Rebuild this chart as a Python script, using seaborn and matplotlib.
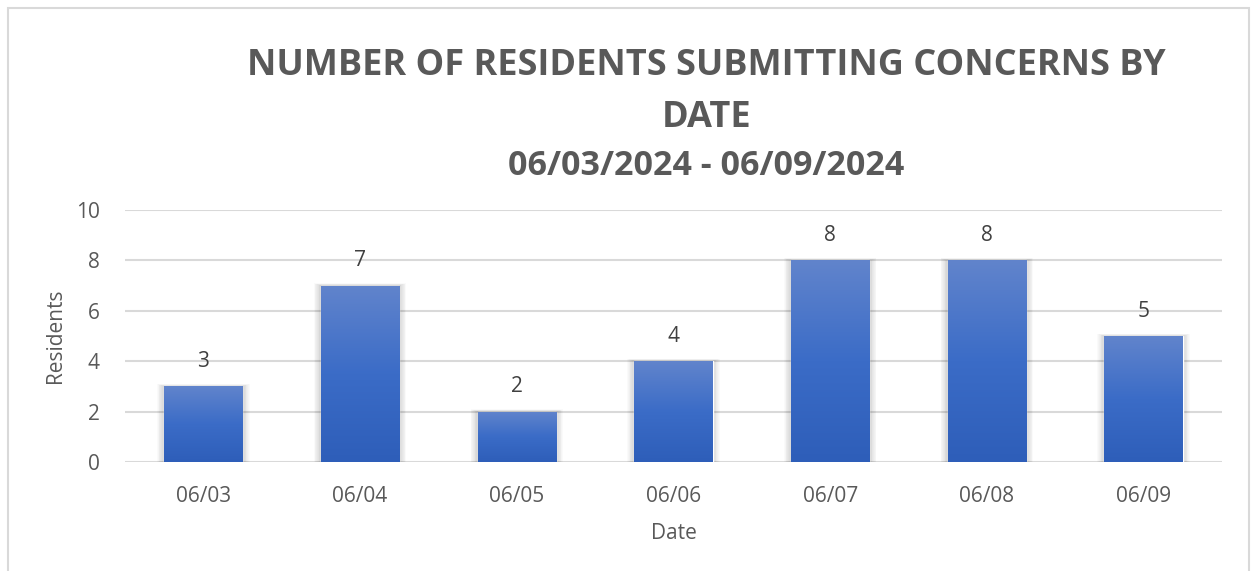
import numpy as np
import pandas as pd
import matplotlib
matplotlib.use("Agg")
import matplotlib.pyplot as plt
import seaborn as sns
from matplotlib.colors import LinearSegmentedColormap
from matplotlib.patches import Rectangle

# Данные
dates = ["06/03", "06/04", "06/05", "06/06", "06/07", "06/08", "06/09"]
residents = [3, 7, 2, 4, 8, 8, 5]
y_ticks = [0, 2, 4, 6, 8, 10]

title_lines = ["NUMBER OF RESIDENTS SUBMITTING CONCERNS BY", "DATE"]
title_sub = "06/03/2024 - 06/09/2024"

df = pd.DataFrame({"Date": dates, "Residents": residents})

sns.set_theme(style="white")
plt.rcParams["font.family"] = ["Open Sans", "DejaVu Sans"]

text_color = "#595959"
grid_color = "#d9d9d9"

fig = plt.figure(figsize=(12.52, 5.71), dpi=100)
ax = fig.add_axes([0.0998, 0.191, 0.8762, 0.441])

sns.barplot(data=df, x="Date", y="Residents", color="#3f6fc6",
            width=0.5, ax=ax, zorder=3, saturation=1)

ax.set_yticks(y_ticks)
ax.yaxis.grid(True, color=grid_color, linewidth=1.5, zorder=0)
ax.set_axisbelow(True)
sns.despine(ax=ax, left=True, bottom=True)

# Градиент на столбцах + мягкая тень
cmap = LinearSegmentedColormap.from_list("bar_grad", ["#2e5eb9", "#3b6cc7", "#6184cc"])
grad = np.linspace(0, 1, 256).reshape(-1, 1)
for patch in list(ax.patches):
    x0, y0 = patch.get_x(), patch.get_y()
    w, h = patch.get_width(), patch.get_height()
    for k in np.linspace(0.004, 0.045, 9):
        sh = Rectangle((x0 - k, y0), w + 2 * k, h + k * 2.0, facecolor="black",
                       edgecolor="none", alpha=0.02, zorder=2)
        ax.add_patch(sh)
    im = ax.imshow(grad, extent=[x0, x0 + w, y0, y0 + h], origin="lower",
                   cmap=cmap, aspect="auto", zorder=4)
    im.set_clip_path(patch)

ax.set_xlim(-0.5, len(dates) - 0.5)
ax.set_ylim(0, 10)

# Подписи значений
for i, v in enumerate(residents):
    ax.annotate(str(v), (i, v), xytext=(0, 18), textcoords="offset points",
                ha="center", va="center", fontsize=15, color="#404040")

ax.tick_params(axis="both", labelsize=15, labelcolor=text_color, length=0)
ax.tick_params(axis="x", pad=17)
ax.tick_params(axis="y", pad=18)
ax.set_xlabel("Date", fontsize=15, color=text_color, labelpad=12)
ax.set_ylabel("Residents", fontsize=15, color=text_color, labelpad=7)

# Заголовок
fig.text(0.564, 1 - 66 / 571, title_lines[0], ha="center", va="center", fontsize=26,
         fontweight="bold", color=text_color)
fig.text(0.564, 1 - 118 / 571, title_lines[1], ha="center", va="center", fontsize=26,
         fontweight="bold", color=text_color)
fig.text(0.564, 1 - 166 / 571, title_sub, ha="center", va="center", fontsize=24.5,
         fontweight="bold", color=text_color)

# Рамка
fig.patches.append(Rectangle((0.006, -0.01), 0.992, 0.996, transform=fig.transFigure,
                             fill=False, edgecolor="#d9d9d9", linewidth=1.5))

fig.savefig("out.png", dpi=100)
